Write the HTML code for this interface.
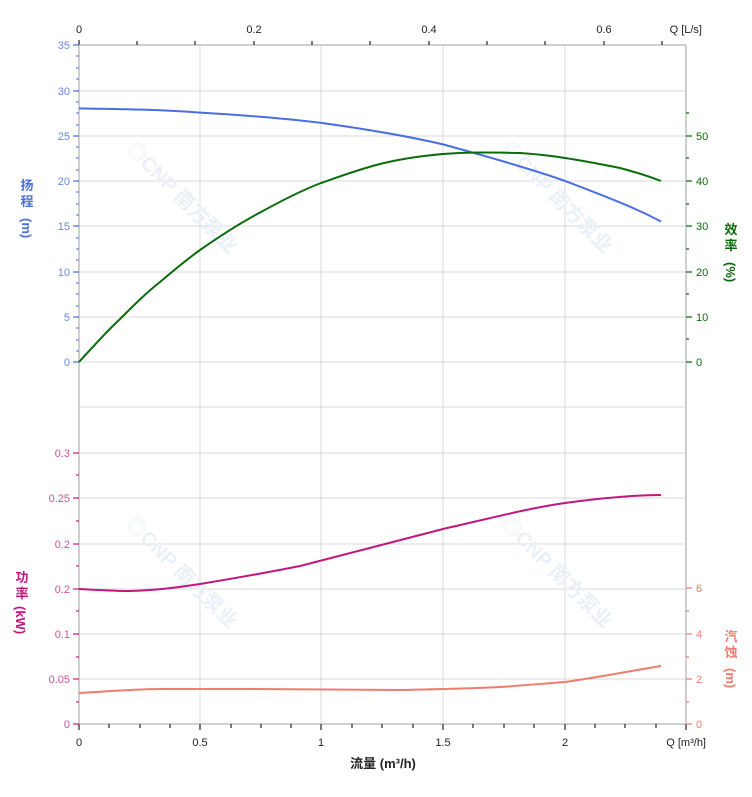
<!DOCTYPE html><html><head><meta charset="utf-8"><style>body{margin:0;background:#fff}svg{display:block;font-family:"Liberation Sans","Noto Sans CJK SC",sans-serif}</style></head><body>
<svg width="752" height="797" viewBox="0 0 752 797" xmlns="http://www.w3.org/2000/svg">
<g stroke="#d8d8d8" stroke-width="1">
<line x1="79" y1="91" x2="686" y2="91"/><line x1="79" y1="136" x2="686" y2="136"/><line x1="79" y1="181" x2="686" y2="181"/><line x1="79" y1="226" x2="686" y2="226"/><line x1="79" y1="272" x2="686" y2="272"/><line x1="79" y1="317" x2="686" y2="317"/><line x1="79" y1="362" x2="686" y2="362"/><line x1="79" y1="407" x2="686" y2="407"/>
<line x1="79" y1="453" x2="686" y2="453"/><line x1="79" y1="498" x2="686" y2="498"/><line x1="79" y1="544" x2="686" y2="544"/><line x1="79" y1="589" x2="686" y2="589"/><line x1="79" y1="634" x2="686" y2="634"/><line x1="79" y1="679" x2="686" y2="679"/>
<line x1="200" y1="45" x2="200" y2="724"/><line x1="321" y1="45" x2="321" y2="724"/><line x1="443" y1="45" x2="443" y2="724"/><line x1="565" y1="45" x2="565" y2="724"/>
</g>
<g stroke="#cfcfcf" stroke-width="2" fill="none"><line x1="79" y1="45" x2="79" y2="724"/><line x1="686" y1="45" x2="686" y2="724"/><line x1="79" y1="45" x2="686" y2="45"/><line x1="79" y1="724" x2="686" y2="724"/></g>
<g stroke="#333" stroke-width="1.3">
<line x1="79" y1="40" x2="79" y2="45"/><line x1="137" y1="41" x2="137" y2="45"/><line x1="195" y1="41" x2="195" y2="45"/><line x1="254" y1="41" x2="254" y2="45"/><line x1="312" y1="41" x2="312" y2="45"/><line x1="370" y1="41" x2="370" y2="45"/><line x1="429" y1="41" x2="429" y2="45"/><line x1="487" y1="41" x2="487" y2="45"/><line x1="545" y1="41" x2="545" y2="45"/><line x1="604" y1="41" x2="604" y2="45"/><line x1="662" y1="41" x2="662" y2="45"/>
<line x1="79" y1="724" x2="79" y2="730"/><line x1="109" y1="724" x2="109" y2="728"/><line x1="140" y1="724" x2="140" y2="728"/><line x1="170" y1="724" x2="170" y2="728"/><line x1="200" y1="724" x2="200" y2="730"/><line x1="231" y1="724" x2="231" y2="728"/><line x1="261" y1="724" x2="261" y2="728"/><line x1="291" y1="724" x2="291" y2="728"/><line x1="321" y1="724" x2="321" y2="730"/><line x1="352" y1="724" x2="352" y2="728"/><line x1="382" y1="724" x2="382" y2="728"/><line x1="413" y1="724" x2="413" y2="728"/><line x1="443" y1="724" x2="443" y2="730"/><line x1="473" y1="724" x2="473" y2="728"/><line x1="504" y1="724" x2="504" y2="728"/><line x1="534" y1="724" x2="534" y2="728"/><line x1="565" y1="724" x2="565" y2="730"/><line x1="595" y1="724" x2="595" y2="728"/><line x1="625" y1="724" x2="625" y2="728"/><line x1="656" y1="724" x2="656" y2="728"/><line x1="686" y1="724" x2="686" y2="730"/>
</g>
<g stroke="#4a6fe0" stroke-width="1.3">
<path d="M73 45h6M73 91h6M73 136h6M73 181h6M73 226h6M73 272h6M73 317h6M73 362h6"/>
<path d="M76 56h3M76 68h3M76 79h3M76 102h3M76 113h3M76 125h3M76 147h3M76 158h3M76 170h3M76 192h3M76 204h3M76 215h3M76 238h3M76 249h3M76 260h3M76 283h3M76 294h3M76 306h3M76 328h3M76 340h3M76 351h3" opacity="0.8"/>
</g>
<g stroke="#0a6b0a" stroke-width="1.3"><path d="M686 136h6M686 181h6M686 226h6M686 272h6M686 317h6M686 362h6M686 113h3M686 158h3M686 204h3M686 249h3M686 294h3M686 339h3"/></g>
<g stroke="#d0208a" stroke-width="1.3"><path d="M73 453h6M73 498h6M73 544h6M73 589h6M73 634h6M73 679h6M73 724h6M76 475h3M76 521h3M76 566h3M76 611h3M76 657h3M76 702h3"/></g>
<g stroke="#f07c70" stroke-width="1.3"><path d="M686 588h6M686 634h6M686 679h6M686 724h6M686 611h3M686 657h3M686 702h3"/></g>
<g font-size="11" fill="#222"><text x="79" y="33" text-anchor="middle">0</text><text x="254" y="33" text-anchor="middle">0.2</text><text x="429" y="33" text-anchor="middle">0.4</text><text x="604" y="33" text-anchor="middle">0.6</text><text x="702" y="33" text-anchor="end">Q [L/s]</text>
<text x="79" y="746" text-anchor="middle">0</text><text x="200" y="746" text-anchor="middle">0.5</text><text x="321" y="746" text-anchor="middle">1</text><text x="443" y="746" text-anchor="middle">1.5</text><text x="565" y="746" text-anchor="middle">2</text><text x="706" y="746" text-anchor="end">Q [m³/h]</text></g>
<text x="383" y="768" text-anchor="middle" font-size="13" font-weight="bold" fill="#222">流量 (m³/h)</text>
<g font-size="11" fill="#6d85e0" text-anchor="end"><text x="70" y="49">35</text><text x="70" y="95">30</text><text x="70" y="140">25</text><text x="70" y="185">20</text><text x="70" y="230">15</text><text x="70" y="276">10</text><text x="70" y="321">5</text><text x="70" y="366">0</text></g>
<g font-size="11" fill="#d050a0" text-anchor="end"><text x="70" y="457">0.3</text><text x="70" y="502">0.25</text><text x="70" y="548">0.2</text><text x="70" y="593">0.2</text><text x="70" y="638">0.1</text><text x="70" y="683">0.05</text><text x="70" y="728">0</text></g>
<g font-size="11" fill="#0a6b0a"><text x="696" y="140">50</text><text x="696" y="185">40</text><text x="696" y="230">30</text><text x="696" y="276">20</text><text x="696" y="321">10</text><text x="696" y="366">0</text></g>
<g font-size="11" fill="#f07c70"><text x="696" y="592">6</text><text x="696" y="638">4</text><text x="696" y="683">2</text><text x="696" y="728">0</text></g>
<g font-size="13" font-weight="bold"><text x="27" y="190" fill="#4a6fe0" text-anchor="middle">扬</text><text x="27" y="206" fill="#4a6fe0" text-anchor="middle">程</text><text transform="translate(22,218) rotate(90)" fill="#4a6fe0">(m)</text>
<text x="22" y="582" fill="#c01880" text-anchor="middle">功</text><text x="22" y="598" fill="#c01880" text-anchor="middle">率</text><text transform="translate(16,606) rotate(90)" fill="#c01880">(kW)</text>
<text x="731" y="234" fill="#0a6b0a" text-anchor="middle">效</text><text x="731" y="250" fill="#0a6b0a" text-anchor="middle">率</text><text transform="translate(726,262) rotate(90)" fill="#0a6b0a">(%)</text>
<text x="731" y="641" fill="#f07c70" text-anchor="middle">汽</text><text x="731" y="657" fill="#f07c70" text-anchor="middle">蚀</text><text transform="translate(726,668) rotate(90)" fill="#f07c70">(m)</text></g>
<g fill="#eaf0f7" font-size="20" font-weight="bold"><text transform="translate(125,150) rotate(45)">◎CNP 南方泵业</text><text transform="translate(500,150) rotate(45)">◎CNP 南方泵业</text><text transform="translate(125,525) rotate(45)">◎CNP 南方泵业</text><text transform="translate(500,525) rotate(45)">◎CNP 南方泵业</text></g>
<g fill="none" stroke-width="2">
<path stroke="#4a6fe0" d="M79 108.4 C120 109 160 109.5 200 112.6 C250 115.5 290 119 321 122.9 C380 131 420 139 443 144.4 C500 160 540 172 565 180.9 C610 198 640 210 661 221.6"/>
<path stroke="#0a6b0a" d="M79 362 C92 348 105 333 119 320 C133 306 146 293 160 282 C173 271 186 260 200 250 C220 236 240 223 261 212 C281 201 300 191 321 183 C341 176 360 169 380 164 C400 159 420 156 443 154 C456 153 468 152.5 480 152.5 C494 152.5 507 152.5 520 153 C535 154 550 155.5 565 158 C585 161 600 164 620 168 C635 172 648 176 661 181"/>
<path stroke="#c01880" d="M79 589 C100 590 115 591 130 591 C160 590 180 587 200 584 C230 579 260 574 300 566 C340 556 380 545 443 529 C500 516 530 508 565 503 C610 497 640 495 661 495"/>
<path stroke="#f07c70" d="M79 693 C110 691 140 689 160 689 C200 689 240 689 250 689 C330 690 370 690 400 690 C450 689 480 688 500 687 C530 685 550 683 565 682 C600 677 630 671 661 666"/>
</g>
</svg></body></html>
